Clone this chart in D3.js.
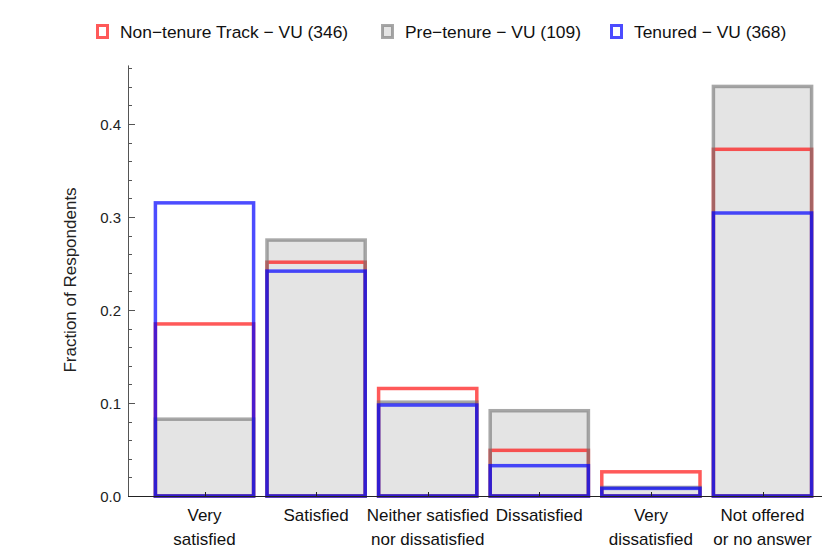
<!DOCTYPE html>
<html><head><meta charset="utf-8">
<script src="https://cdn.jsdelivr.net/npm/d3@7"></script>
<style>body{margin:0;background:#fff}svg text{font-family:"Liberation Sans",Arial,sans-serif}</style>
</head><body><svg id="c" width="824" height="549"></svg>
<script>
const categories = [["Very","satisfied"],["Satisfied"],["Neither satisfied","nor dissatisfied"],["Dissatisfied"],["Very","dissatisfied"],["Not offered","or no answer"]];
const seriesNames = ["Non\u2212tenure Track \u2212 VU (346)","Pre\u2212tenure \u2212 VU (109)","Tenured \u2212 VU (368)"];
const nonTenure = [0.185, 0.2514, 0.1156, 0.0491, 0.026, 0.3728];
const preTenure = [0.0826, 0.2752, 0.1009, 0.0917, 0.0092, 0.4404];
const tenured   = [0.3152, 0.2418, 0.0978, 0.0326, 0.0082, 0.3043];
const yTicks = [0, 0.1, 0.2, 0.3, 0.4];

const svg = d3.select("#c");
const x = d3.scaleBand().domain(d3.range(categories.length)).range([148.7, 818.3]).paddingInner(0.12).paddingOuter(0.06);
const y = d3.scaleLinear().domain([0, 0.4]).range([496, 124]);

const series = [
  {name: seriesNames[0], vals: nonTenure, stroke: "rgba(255,0,0,0.65)", legFill: "#fff"},
  {name: seriesNames[1], vals: preTenure, stroke: "rgba(110,110,110,0.6)", legFill: "#e4e4e4"},
  {name: seriesNames[2], vals: tenured, stroke: "rgba(0,0,255,0.7)", legFill: "#fff"}
];

// fills (gray series)
svg.append("g").selectAll("rect").data(preTenure).join("rect")
  .attr("x", (d,i)=>x(i)).attr("width", x.bandwidth())
  .attr("y", d=>y(d)).attr("height", d=>y(0)-y(d))
  .attr("fill", "#e4e4e4");

// strokes in order red, gray, blue
series.forEach(s => {
  svg.append("g").selectAll("rect").data(s.vals).join("rect")
    .attr("x", (d,i)=>x(i)).attr("width", x.bandwidth())
    .attr("y", d=>y(d)).attr("height", d=>y(0)-y(d))
    .attr("fill", "none").attr("stroke", s.stroke).attr("stroke-width", 3.5);
});

// y axis
const axX = 128;
svg.append("line").attr("x1", axX+0.5).attr("x2", axX+0.5).attr("y1", y(0)).attr("y2", y(0.463)).attr("stroke", "#555").attr("stroke-width", 1);
const minor = d3.range(0, 0.4601, 0.02);
svg.append("g").selectAll("line").data(minor).join("line")
  .attr("x1", axX).attr("x2", d => axX + (Math.abs(d*10 - Math.round(d*10)) < 1e-6 ? 7 : 4))
  .attr("y1", d=>Math.round(y(d))+0.5).attr("y2", d=>Math.round(y(d))+0.5)
  .attr("stroke", "#555").attr("stroke-width", 1);
svg.append("g").selectAll("text").data(yTicks).join("text")
  .attr("x", 121).attr("y", d=>y(d)+5.5).attr("text-anchor", "end")
  .attr("font-size", 15).attr("fill", "#222").text(d=>d.toFixed(1));
svg.append("text").attr("transform", "translate(76,280) rotate(-90)")
  .attr("text-anchor", "middle").attr("font-size", 17).attr("fill", "#222").text("Fraction of Respondents");

// x axis
svg.append("line").attr("x1", axX).attr("x2", 822).attr("y1", 496.5).attr("y2", 496.5).attr("stroke", "#222").attr("stroke-width", 1);
svg.append("g").selectAll("line").data(categories).join("line")
  .attr("x1", (d,i)=>Math.round(x(i)+x.bandwidth()/2)+0.5).attr("x2", (d,i)=>Math.round(x(i)+x.bandwidth()/2)+0.5)
  .attr("y1", 496).attr("y2", 492).attr("stroke", "#222");
const xl = svg.append("g").selectAll("text").data(categories).join("text")
  .attr("text-anchor", "middle").attr("font-size", 17).attr("fill", "#111");
xl.each(function(d,i){
  const t = d3.select(this);
  d.forEach((line, j) => t.append("tspan").attr("x", x(i)+x.bandwidth()/2).attr("y", 521 + j*24).text(line));
});

// legend
const legX = [96, 381, 610];
series.forEach((s, i) => {
  svg.append("rect").attr("x", legX[i]+1.5).attr("y", 25.5).attr("width", 10).attr("height", 12)
    .attr("fill", s.legFill).attr("stroke", s.stroke).attr("stroke-width", 3);
  svg.append("text").attr("x", legX[i]+24).attr("y", 38).attr("font-size", 17.4).attr("fill", "#111").text(s.name);
});
</script></body></html>
